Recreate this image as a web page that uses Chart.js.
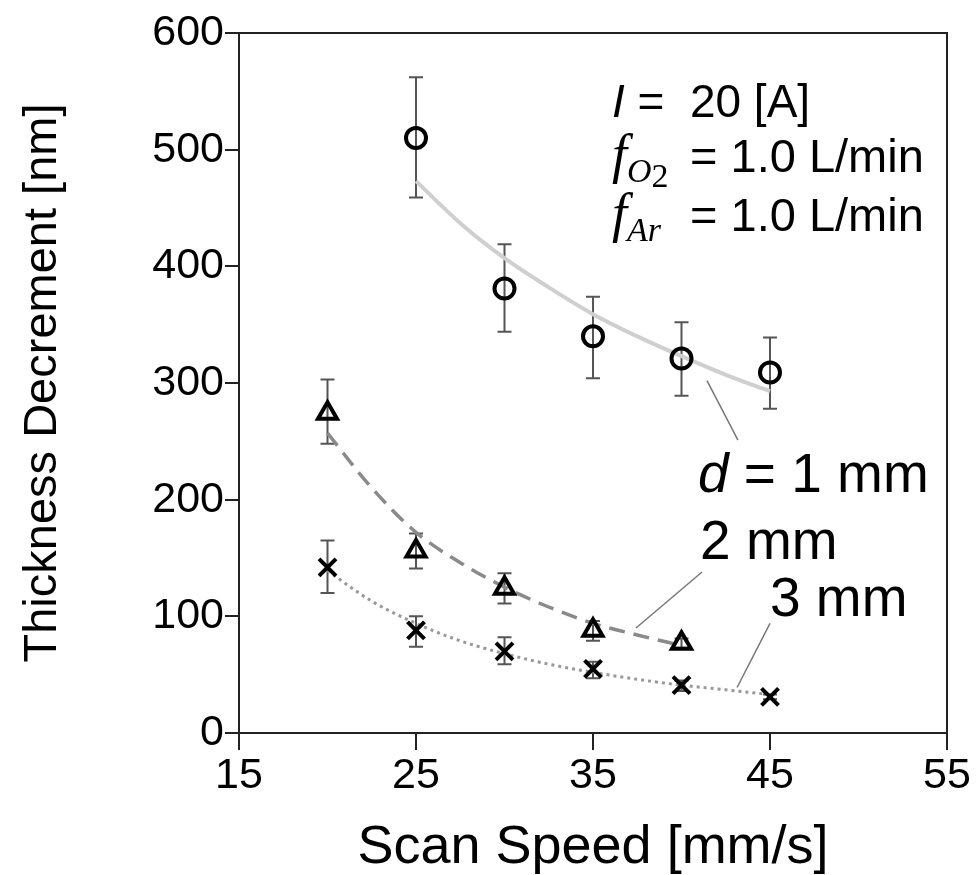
<!DOCTYPE html>
<html>
<head>
<meta charset="utf-8">
<script src="https://cdn.jsdelivr.net/npm/chart.js@4.4.0/dist/chart.umd.min.js"></script>
<style>
    html, body { margin: 0; padding: 0; background: #fff; }
</style>
</head>
<body>
<canvas id="chart" width="978" height="875"></canvas>
<script>
// Measured points (d = 1, 2, 3 mm) with error bar limits
const speed1 = [25, 30, 35, 40, 45];
const thick1 = [510, 381, 340, 321, 309];
const err1Low = [459, 344, 304, 289, 278];
const err1High = [562, 419, 374, 352, 339];

const speed2 = [20, 25, 30, 35, 40];
const thick2 = [274, 156, 124, 88, 77];
const err2Low = [248, 141, 111, 79, 73];
const err2High = [303, 171, 137, 96, 81];

const speed3 = [20, 25, 30, 35, 40, 45];
const thick3 = [142, 88, 70, 55, 41, 31];
const err3Low = [120, 74, 59, 47, 36, 29];
const err3High = [165, 100, 82, 61, 45, 33];

// Trend curves
const fitSpeed1 = [25, 27.5, 30, 32.5, 35, 37.5, 40, 42.5, 45];
const fitThick1 = [473, 437, 407, 382, 359, 340, 323, 307, 293];
const fitSpeed2 = [20, 22.5, 25, 27.5, 30, 32.5, 35, 37.5, 40];
const fitThick2 = [257, 210, 172, 146, 125, 108, 94, 84, 75];
const fitSpeed3 = [20, 22.5, 25, 27.5, 30, 32.5, 35, 37.5, 40, 42.5, 45];
const fitThick3 = [139, 113, 94, 79, 68, 59, 52, 46, 41, 37, 33];

// Axis ticks
const xTicks = [15, 25, 35, 45, 55];
const yTicks = [0, 100, 200, 300, 400, 500, 600];

const SANS = "'Liberation Sans', Arial, sans-serif";
const SERIF = "'Liberation Serif', 'Times New Roman', serif";

function toPts(xs, ys) {
    return xs.map((x, i) => ({ x: x, y: ys[i] }));
}

// Error bars drawn under the markers
const errorBars = {
    id: 'errorBars',
    beforeDatasetsDraw(chart) {
        const ctx = chart.ctx;
        const yScale = chart.scales.y;
        ctx.save();
        ctx.strokeStyle = '#555';
        ctx.lineWidth = 2;
        chart.data.datasets.forEach((ds, i) => {
            if (!ds.errLow) return;
            const meta = chart.getDatasetMeta(i);
            meta.data.forEach((pt, j) => {
                const x = pt.x;
                const yl = yScale.getPixelForValue(ds.errLow[j]);
                const yh = yScale.getPixelForValue(ds.errHigh[j]);
                ctx.beginPath();
                ctx.moveTo(x, yl); ctx.lineTo(x, yh);
                ctx.moveTo(x - 7, yl); ctx.lineTo(x + 7, yl);
                ctx.moveTo(x - 7, yh); ctx.lineTo(x + 7, yh);
                ctx.stroke();
            });
        });
        ctx.restore();
    }
};

// Frame plus the text labels and leader lines
const annotations = {
    id: 'annotations',
    afterDraw(chart) {
        const ctx = chart.ctx;
        const xs = chart.scales.x, ys = chart.scales.y;
        const px = v => xs.getPixelForValue(v);
        const py = v => ys.getPixelForValue(v);
        const a = chart.chartArea;

        ctx.save();
        ctx.strokeStyle = '#222';
        ctx.lineWidth = 2;
        ctx.strokeRect(a.left, a.top, a.right - a.left, a.bottom - a.top);

        // leader lines
        ctx.strokeStyle = '#777';
        ctx.lineWidth = 1.5;
        [[41.44, 302, 43.19, 251], [41.16, 138, 37.43, 90], [45.0, 94, 43.14, 39]].forEach(l => {
            ctx.beginPath();
            ctx.moveTo(px(l[0]), py(l[1]));
            ctx.lineTo(px(l[2]), py(l[3]));
            ctx.stroke();
        });

        ctx.fillStyle = '#000';
        ctx.textBaseline = 'alphabetic';
        ctx.textAlign = 'left';

        const run = (parts, x, y) => {
            parts.forEach(p => {
                ctx.font = p.font;
                ctx.fillText(p.text, x, y + (p.dy || 0));
                x += ctx.measureText(p.text).width;
            });
        };

        run([
            { font: `italic 46px ${SANS}`, text: 'I' },
            { font: `46px ${SANS}`, text: ' =  20 [A]' }
        ], px(36.07), py(528));

        run([
            { font: `italic 54px ${SERIF}`, text: 'f' },
            { font: `italic 34px ${SERIF}`, text: 'O', dy: 10 },
            { font: `34px ${SERIF}`, text: '2', dy: 15 }
        ], px(36.07), py(481));
        run([{ font: `47px ${SANS}`, text: '= 1.0 L/min' }], px(40.48), py(481));

        run([
            { font: `italic 54px ${SERIF}`, text: 'f' },
            { font: `italic 34px ${SERIF}`, text: 'Ar', dy: 10 }
        ], px(36.07), py(430));
        run([{ font: `47px ${SANS}`, text: '= 1.0 L/min' }], px(40.48), py(430));

        run([
            { font: `italic 55px ${SANS}`, text: 'd' },
            { font: `55px ${SANS}`, text: ' = 1 mm' }
        ], px(40.93), py(207));
        run([{ font: `55px ${SANS}`, text: '2 mm' }], px(41.05), py(149));
        run([{ font: `55px ${SANS}`, text: '3 mm' }], px(45.0), py(100));

        ctx.restore();
    }
};

const ctx = document.getElementById('chart').getContext('2d');

new Chart(ctx, {
    type: 'scatter',
    data: {
        datasets: [
            {
                label: 'd = 1 mm',
                data: toPts(speed1, thick1),
                errLow: err1Low, errHigh: err1High,
                pointStyle: 'circle', pointRadius: 10,
                pointBorderWidth: 4, borderColor: '#000',
                backgroundColor: 'rgba(0,0,0,0)',
                order: 1
            },
            {
                label: 'd = 2 mm',
                data: toPts(speed2, thick2),
                errLow: err2Low, errHigh: err2High,
                pointStyle: 'triangle', pointRadius: 11,
                pointBorderWidth: 4, borderColor: '#000',
                backgroundColor: 'rgba(0,0,0,0)',
                order: 1
            },
            {
                label: 'd = 3 mm',
                data: toPts(speed3, thick3),
                errLow: err3Low, errHigh: err3High,
                pointStyle: 'crossRot', pointRadius: 12,
                pointBorderWidth: 4, borderColor: '#000',
                order: 1
            },
            {
                label: 'fit 1',
                data: toPts(fitSpeed1, fitThick1),
                showLine: true, pointRadius: 0,
                borderColor: '#cfcfcf', borderWidth: 4,
                cubicInterpolationMode: 'monotone',
                order: 3
            },
            {
                label: 'fit 2',
                data: toPts(fitSpeed2, fitThick2),
                showLine: true, pointRadius: 0,
                borderColor: '#8a8a8a', borderWidth: 3.5,
                borderDash: [16, 9],
                cubicInterpolationMode: 'monotone',
                order: 3
            },
            {
                label: 'fit 3',
                data: toPts(fitSpeed3, fitThick3),
                showLine: true, pointRadius: 0,
                borderColor: '#999', borderWidth: 3,
                borderDash: [3, 4],
                cubicInterpolationMode: 'monotone',
                order: 3
            }
        ]
    },
    options: {
        responsive: false,
        animation: false,
        devicePixelRatio: 1,
        layout: { padding: { top: 33, right: 31, left: 0, bottom: 0 } },
        plugins: {
            legend: { display: false },
            tooltip: { enabled: false }
        },
        scales: {
            x: {
                type: 'linear',
                min: 15, max: 55,
                afterFit: s => { s.height = 142; },
                afterBuildTicks: s => { s.ticks = xTicks.map(v => ({ value: v })); },
                ticks: { color: '#000', padding: 0, font: { family: SANS, size: 43 } },
                grid: { drawOnChartArea: false, tickLength: 17, color: '#222', lineWidth: 2 },
                border: { color: '#222', width: 2 },
                title: {
                    display: true, text: 'Scan Speed [mm/s]', color: '#000',
                    font: { family: SANS, size: 54, lineHeight: 1 },
                    padding: { top: 0, bottom: 0 }
                }
            },
            y: {
                min: 0, max: 600,
                afterFit: s => { s.width = 239; },
                afterBuildTicks: s => { s.ticks = yTicks.map(v => ({ value: v })); },
                ticks: { color: '#000', padding: 1, font: { family: SANS, size: 43 } },
                grid: { drawOnChartArea: false, tickLength: 14, color: '#222', lineWidth: 2 },
                border: { color: '#222', width: 2 },
                title: {
                    display: true, text: 'Thickness Decrement [nm]', color: '#000',
                    font: { family: SANS, size: 47, lineHeight: 1 },
                    padding: { top: 20, bottom: 0 }
                }
            }
        }
    },
    plugins: [errorBars, annotations]
});
</script>
</body>
</html>
